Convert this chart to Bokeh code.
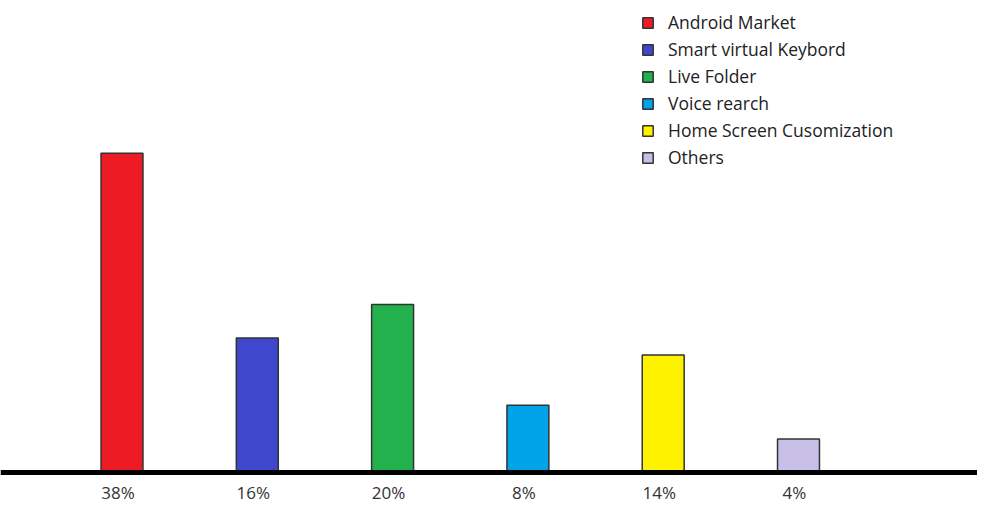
from bokeh.plotting import figure
from bokeh.models import ColumnDataSource, Range1d, Span, Legend, LegendItem
from bokeh.core.properties import value
from bokeh.embed import file_html
from bokeh.resources import INLINE

categories = ["Android Market", "Smart virtual Keybord", "Live Folder",
              "Voice rearch", "Home Screen Cusomization", "Others"]
shares = [38, 16, 20, 8, 14, 4]
share_labels = ["38%", "16%", "20%", "8%", "14%", "4%"]
colors = ["#ED1C24", "#3F48CC", "#22B14C", "#00A2E8", "#FFF200", "#C8BFE7"]

xs = list(range(len(categories)))
src = ColumnDataSource(dict(x=xs, top=shares, cat=categories, color=colors,
                            lab=share_labels, ly=[-2.38] * len(xs)))

p = figure(width=977, height=506, output_backend="svg", toolbar_location=None,
           x_range=Range1d(-0.898, 6.323), y_range=Range1d(-4.05, 56.19),
           min_border=0)
p.axis.visible = False
p.grid.visible = False
p.outline_line_color = None
p.background_fill_color = "white"

r = p.vbar(x="x", top="top", bottom=0, width=0.31, source=src,
           fill_color="color", line_color="#333333", line_width=1.5)

p.add_layout(Span(location=0, dimension="width", line_color="black", line_width=5))

p.text(x="x", y="ly", text="lab", source=src, text_align="center",
       text_baseline="middle", text_font=value("Open Sans"), x_offset=-4,
       text_font_size="17px", text_color="#333333")

items = [LegendItem(label=c, renderers=[r], index=i) for i, c in enumerate(categories)]
legend = Legend(items=items, location=(641, 337), orientation="vertical",
                glyph_width=13, glyph_height=13, label_height=20, spacing=3,
                label_standoff=14, padding=0, margin=0,
                border_line_color=None, background_fill_alpha=0,
                label_text_font="Open Sans", label_text_font_size="17.5px",
                label_text_color="#222222")
p.add_layout(legend)

open("out.html", "w").write(file_html(p, INLINE))
